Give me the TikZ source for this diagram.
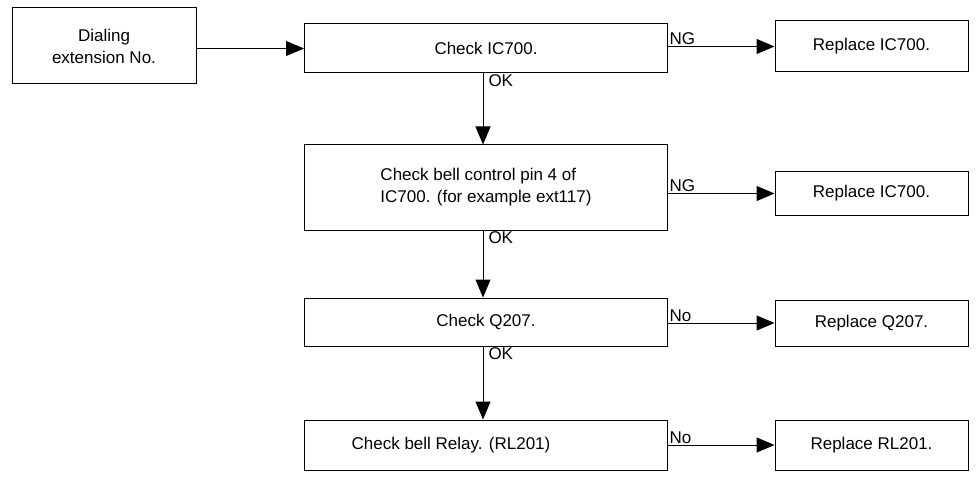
\documentclass[tikz,border=0pt]{standalone}
\usepackage{fontspec}
\setmainfont{Liberation Sans}
\usetikzlibrary{arrows.meta}
\begin{document}
\begin{tikzpicture}[x=1pt,y=-1pt,font=\fontsize{17}{22}\selectfont]
\tikzstyle{box}=[draw,line width=1pt,inner sep=0pt,align=center]
\tikzstyle{flow}=[line width=1pt,-{Triangle[length=18pt,width=15pt]}]
\tikzstyle{tag}=[inner sep=1pt]
\useasboundingbox (0,0) rectangle (979,481);
%Start box
\node[box,minimum width=184,minimum height=76] (dial) at (104,46) {Dialing\\extension No.};
%Check column
\node[box,minimum width=363,minimum height=49] (c1) at (486,48.5) {Check IC700.};
\node[box,minimum width=363,minimum height=85,align=left] (c2) at (486,187.5) {Check bell control pin 4 of\\IC700. (for example ext117)};
\node[box,minimum width=363,minimum height=48] (c3) at (486,322) {Check Q207.};
\node[box,minimum width=363,minimum height=50] (c4) at (486,445) {\hspace*{-70pt}Check bell Relay. (RL201)};
%Replace column
\foreach \n/\y/\h/\t in {r1/46.5/51/Replace IC700., r2/193.5/43/Replace IC700., r3/323/46/Replace Q207., r4/445/50/Replace RL201.}
\node[box,minimum width=193,minimum height=\h] (\n) at (871.5,\y) {\t};
%Links
\draw[flow] (dial.east |- c1) -- (c1.west);
\foreach \from/\to/\lab in {c1/r1/NG, c2/r2/NG, c3/r3/No, c4/r4/No}
\draw[flow] (\from.east |- \to) -- (\to.west) node[tag,pos=0,above right] {\lab};
\foreach \from/\to in {c1/c2, c2/c3, c3/c4}
\draw[flow] (\from.south -| 483,0) -- (\to.north -| 483,0) node[tag,pos=0,below right,xshift=4pt] {OK};
\end{tikzpicture}
\end{document}
